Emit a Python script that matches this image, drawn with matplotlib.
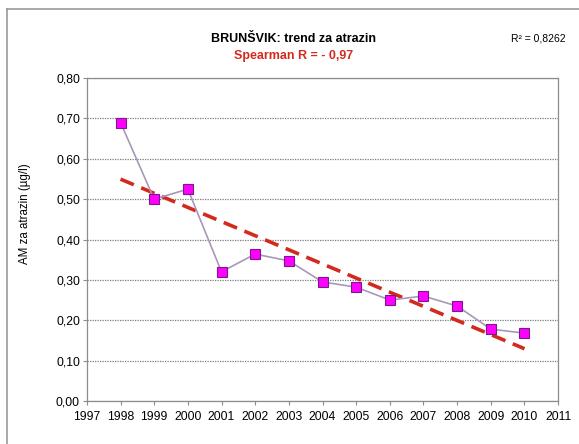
import numpy as np
import matplotlib
matplotlib.use("Agg")
import matplotlib.pyplot as plt
from matplotlib.lines import Line2D
from matplotlib.ticker import FuncFormatter

plt.rcParams["font.family"] = ["Liberation Sans", "DejaVu Sans"]

years = [1998, 1999, 2000, 2001, 2002, 2003, 2004, 2005, 2006, 2007, 2008, 2009, 2010]
am_atrazin = [0.69, 0.50, 0.525, 0.32, 0.364, 0.347, 0.295, 0.282, 0.25, 0.26, 0.235, 0.178, 0.168]
x_ticks = list(range(1997, 2012))
y_ticks = [0.0, 0.1, 0.2, 0.3, 0.4, 0.5, 0.6, 0.7, 0.8]

GRAY = "#8c8c8c"

fig = plt.figure(figsize=(5.79, 4.44), dpi=100)
ax = fig.add_axes([0.150, 0.097, 0.814, 0.727])

# data series
ax.plot(years, am_atrazin, color="#a898b8", lw=1.2, zorder=3,
        marker="s", ms=7, mfc="#ff00ff", mec="#7a1a8a", mew=0.8)

# linear trend (Excel style)
k, n = np.polyfit(years, am_atrazin, 1)
xt = np.array([years[0], years[-1]])
ax.plot(xt, k * xt + n, color="#d42a1e", lw=2.6, ls=(0, (4, 2.2)), zorder=2)

ax.set_xlim(x_ticks[0], x_ticks[-1])
ax.set_ylim(y_ticks[0], y_ticks[-1])
ax.set_xticks(x_ticks)
ax.set_yticks(y_ticks)
ax.yaxis.set_major_formatter(FuncFormatter(lambda v, p: f"{v:.2f}".replace(".", ",")))
ax.tick_params(axis="both", direction="out", length=3, width=0.8, color=GRAY,
               labelsize=8.7, pad=2)
ax.tick_params(axis="x", pad=4)
for s in ax.spines.values():
    s.set_color(GRAY)
    s.set_linewidth(0.9)
ax.yaxis.grid(True, color="#7a7a7a", ls=(0, (1, 1)), lw=0.9)
ax.set_axisbelow(True)

ax.set_ylabel("AM za atrazin (µg/l)", fontsize=8.3)
ax.yaxis.set_label_coords(-0.118, 0.58)

fig.text(0.507, 0.913, "BRUNŠVIK: trend za atrazin", ha="center", va="center",
         fontsize=9, fontweight="bold")
fig.text(0.507, 0.875, "Spearman R = - 0,97", ha="center", va="center",
         fontsize=9, fontweight="bold", color="#d42a1e")
fig.text(0.930, 0.913, "R² = 0,8262", ha="center", va="center", fontsize=7.5)

# outer chart frame (top and left edges visible)
fig.add_artist(Line2D([0.012, 1.0], [0.980, 0.980], transform=fig.transFigure, color="#9a9a9a", lw=1.2))
fig.add_artist(Line2D([0.012, 0.012], [0.0, 0.980], transform=fig.transFigure, color="#9a9a9a", lw=1.2))

fig.savefig("out.png", dpi=100, facecolor="white")
